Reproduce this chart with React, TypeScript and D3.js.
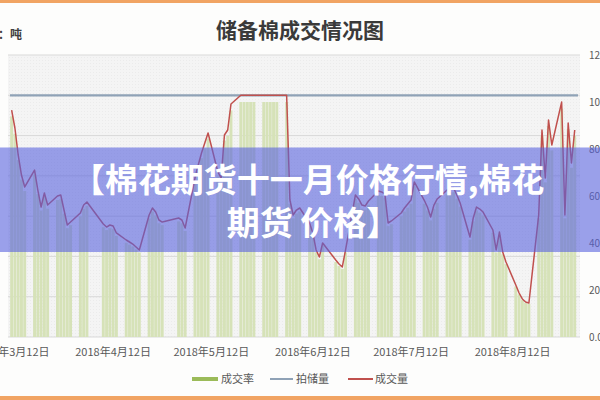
import React from 'react';
import * as d3 from 'd3';

const chartTitle = '储备棉成交情况图';
const unitLabel = '单位：吨';
const bannerLines = ['【棉花期货十一月价格行情,棉花', '期货 价格】'];
const legendLabels = ['成交率', '拍储量', '成交量'];

const tradeDates = [
  '2018-03-12', '2018-03-13', '2018-03-14', '2018-03-15', '2018-03-16',
  '2018-03-19', '2018-03-20', '2018-03-21', '2018-03-22', '2018-03-23',
  '2018-03-26', '2018-03-27', '2018-03-28', '2018-03-29', '2018-03-30',
  '2018-04-02', '2018-04-03', '2018-04-04',
  '2018-04-09', '2018-04-10', '2018-04-11', '2018-04-12', '2018-04-13',
  '2018-04-16', '2018-04-17', '2018-04-18', '2018-04-19', '2018-04-20',
  '2018-04-23', '2018-04-24', '2018-04-25', '2018-04-26', '2018-04-27',
  '2018-05-02', '2018-05-03', '2018-05-04',
  '2018-05-07', '2018-05-08', '2018-05-09', '2018-05-10', '2018-05-11',
  '2018-05-14', '2018-05-15', '2018-05-16', '2018-05-17', '2018-05-18',
  '2018-05-21', '2018-05-22', '2018-05-23', '2018-05-24', '2018-05-25',
  '2018-05-28', '2018-05-29', '2018-05-30', '2018-05-31', '2018-06-01',
  '2018-06-04', '2018-06-05', '2018-06-06', '2018-06-07', '2018-06-08',
  '2018-06-11', '2018-06-12', '2018-06-13', '2018-06-14', '2018-06-15',
  '2018-06-19', '2018-06-20', '2018-06-21', '2018-06-22',
  '2018-06-25', '2018-06-26', '2018-06-27', '2018-06-28', '2018-06-29',
  '2018-07-02', '2018-07-03', '2018-07-04', '2018-07-05', '2018-07-06',
  '2018-07-09', '2018-07-10', '2018-07-11', '2018-07-12', '2018-07-13',
  '2018-07-16', '2018-07-17', '2018-07-18', '2018-07-19', '2018-07-20',
  '2018-07-23', '2018-07-24', '2018-07-25', '2018-07-26', '2018-07-27',
  '2018-07-30', '2018-07-31', '2018-08-01', '2018-08-02', '2018-08-03',
  '2018-08-06', '2018-08-07', '2018-08-08', '2018-08-09', '2018-08-10',
  '2018-08-13', '2018-08-14', '2018-08-15', '2018-08-16', '2018-08-17',
  '2018-08-20', '2018-08-21', '2018-08-22', '2018-08-23', '2018-08-24',
  '2018-08-27', '2018-08-28', '2018-08-29', '2018-08-30', '2018-08-31',
];

// 成交量 (tons)
const volumeTons = [
  28170, 25940, 22590, 20100, 18620,
  20720, 18240, 16130, 17870, 16380,
  17500, 17620, 15760, 13900, 14270,
  15390, 16380, 16750,
  14020, 13650, 13900, 13780, 12910,
  12040, 11790, 11540, 11170, 10800,
  15140, 16010, 15510, 14520, 14270,
  14770, 14520, 13530,
  19730, 21350, 22830, 24080, 25320,
  20480, 19730, 25070, 25690, 28920,
  30000, 30000, 30000, 30000, 30000,
  30000, 30000, 30000, 30000, 30000,
  30000, 17000, 15140, 15760, 16010,
  14150, 12910, 10800, 9930, 11670,
  9560, 9060, 8690, 10800,
  17620, 17130, 16380, 16260, 16880,
  18120, 18000, 17750, 14150, 14400,
  15390, 16010, 16510, 17000, 19240,
  17000, 16130, 14890, 16380, 17130,
  18240, 18490, 18490, 17620, 16630,
  12410, 14770, 16130, 15880, 15510,
  13280, 10800, 13030, 10550, 9310,
  6450, 5460, 4720, 4340, 4220,
  15140, 25690, 19730, 26930, 23830,
  29160, 15140, 26560, 21590, 25690,
];

// 成交率 (%)
const ratePct = [
  93.9, 86.5, 75.3, 67.0, 62.1,
  69.1, 60.8, 53.8, 59.6, 54.6,
  58.3, 58.7, 52.5, 46.3, 47.6,
  51.3, 54.6, 55.8,
  46.7, 45.5, 46.3, 45.9, 43.0,
  40.1, 39.3, 38.5, 37.2, 36.0,
  50.5, 53.4, 51.7, 48.4, 47.6,
  49.2, 48.4, 45.1,
  65.8, 71.2, 76.1, 80.3, 84.4,
  68.3, 65.8, 83.6, 85.6, 96.4,
  100, 100, 100, 100, 100,
  100, 100, 100, 100, 100,
  100, 56.7, 50.5, 52.5, 53.4,
  47.2, 43.0, 36.0, 33.1, 38.9,
  31.9, 30.2, 29.0, 36.0,
  58.7, 57.1, 54.6, 54.2, 56.3,
  60.4, 60.0, 59.2, 47.2, 48.0,
  51.3, 53.4, 55.0, 56.7, 64.1,
  56.7, 53.8, 49.6, 54.6, 57.1,
  60.8, 61.6, 61.6, 58.7, 55.4,
  41.4, 49.2, 53.8, 52.9, 51.7,
  44.3, 36.0, 43.4, 35.2, 31.0,
  21.5, 18.2, 15.7, 14.5, 14.1,
  50.5, 85.6, 65.8, 89.8, 79.4,
  97.2, 50.5, 88.5, 72.0, 85.6,
];

// 拍储量 (tons, daily offer)
const offeredTons = [30000, 30000];

const xTickDates = ['2018-03-12', '2018-04-12', '2018-05-12', '2018-06-12', '2018-07-12', '2018-08-12'];
const xTickLabels = ['2018年3月12日', '2018年4月12日', '2018年5月12日', '2018年6月12日', '2018年7月12日', '2018年8月12日'];
const leftTicks = [0, 5000, 10000, 15000, 20000, 25000, 30000, 35000];
const rightTicks = [0, 20, 40, 60, 80, 100, 120];
const rightTickLabels = ['0.0%', '20.0%', '40.0%', '60.0%', '80.0%', '100.0%', '120.0%'];

const parse = d3.timeParse('%Y-%m-%d');
const FONT = '"Noto Sans CJK SC", "Noto Sans", sans-serif';

export default function App() {
  const W = 600;
  const H = 400;
  const plot = { left: 10, right: 578, top: 55, bottom: 337 };

  const x = d3
    .scaleTime()
    .domain([new Date(2018, 2, 11, 12), new Date(2018, 8, 1, 0)])
    .range([plot.left, plot.right]);
  const yL = d3.scaleLinear().domain([0, 35000]).range([plot.bottom, plot.top]);
  const yR = d3.scaleLinear().domain([0, 120]).range([plot.bottom, plot.top]);

  const dates = tradeDates.map((d) => parse(d) as Date);
  const barW = 2.9;

  const volLine = d3
    .line<number>()
    .x((_, i) => x(dates[i]))
    .y((v) => yL(v))(volumeTons) as string;

  const offerDomain = x.domain();
  const offerLine = d3
    .line<number>()
    .x((_, i) => x(offerDomain[i]))
    .y((v) => yL(v))(offeredTons) as string;

  return (
    <svg
      width={W}
      height={H}
      viewBox={`0 0 ${W} ${H}`}
      style={{ position: 'absolute', left: 0, top: 0, display: 'block' }}
      fontFamily={FONT}
    >
      <defs>
        <pattern id="dots" width="3" height="3" patternUnits="userSpaceOnUse">
          <rect width="3" height="3" fill="#f4f4f4" />
          <rect x="0" y="0" width="1" height="1" fill="#ebebeb" />
        </pattern>
      </defs>
      <rect x={0} y={0} width={W} height={H} fill="#fdfdfc" />
      <rect x={0} y={0} width={W} height={3} fill="#f1a463" />
      <rect x={0} y={396} width={W} height={4} fill="#f1a463" />

      <text x={300} y={38} textAnchor="middle" fontSize={21} fontWeight={700} fill="#3a3a3a">
        {chartTitle}
      </text>
      <text x={22} y={39} textAnchor="end" fontSize={12} fontWeight={700} fill="#404040">
        {unitLabel}
      </text>

      {/* plot area */}
      <rect x={8} y={plot.top} width={572} height={plot.bottom - plot.top} fill="url(#dots)" />

      {leftTicks.map((t) => (
        <line key={t} x1={8} x2={580} y1={yL(t)} y2={yL(t)} stroke="#d9d9d9" strokeWidth={1} />
      ))}

      {/* 成交率 bars */}
      {ratePct.map((r, i) => (
        <rect
          key={i}
          x={x(dates[i]) - barW / 2}
          y={yR(r)}
          width={barW}
          height={plot.bottom - yR(r)}
          fill="#d6e2b8"
        />
      ))}

      {/* 拍储量 */}
      <path d={offerLine} fill="none" stroke="#8fa2b6" strokeWidth={2.2} />
      {/* 成交量 */}
      <path d={volLine} fill="none" stroke="#c0504d" strokeWidth={1.5} strokeLinejoin="round" />

      {/* right axis labels */}
      {rightTicks.map((t, i) => (
        <text key={t} x={589} y={yR(t) + 3.5} fontSize={10} fill="#595959">
          {rightTickLabels[i]}
        </text>
      ))}

      {/* x axis labels */}
      {xTickDates.map((d, i) => (
        <text key={d} x={x(parse(d) as Date)} y={356} textAnchor="middle" fontSize={11} fill="#595959">
          {xTickLabels[i]}
        </text>
      ))}

      {/* legend */}
      <rect x={192} y={377} width={26} height={4} fill="#9bbb59" />
      <text x={221} y={383} fontSize={11} fill="#595959">{legendLabels[0]}</text>
      <line x1={270} x2={293} y1={379} y2={379} stroke="#8fa2b6" strokeWidth={2} />
      <text x={296} y={383} fontSize={11} fill="#595959">{legendLabels[1]}</text>
      <line x1={348} x2={373} y1={379} y2={379} stroke="#c0504d" strokeWidth={2} />
      <text x={375} y={383} fontSize={11} fill="#595959">{legendLabels[2]}</text>

      {/* banner overlay */}
      <rect x={0} y={147.5} width={W} height={104.5} fill="rgb(88,98,222)" fillOpacity={0.6} />
      <text x={308} y={192} textAnchor="middle" fontSize={33} fontWeight={700} fill="#ffffff">
        {bannerLines[0]}
      </text>
      <text x={313} y={235} textAnchor="middle" fontSize={33} fontWeight={700} fill="#ffffff">
        {bannerLines[1]}
      </text>
    </svg>
  );
}
